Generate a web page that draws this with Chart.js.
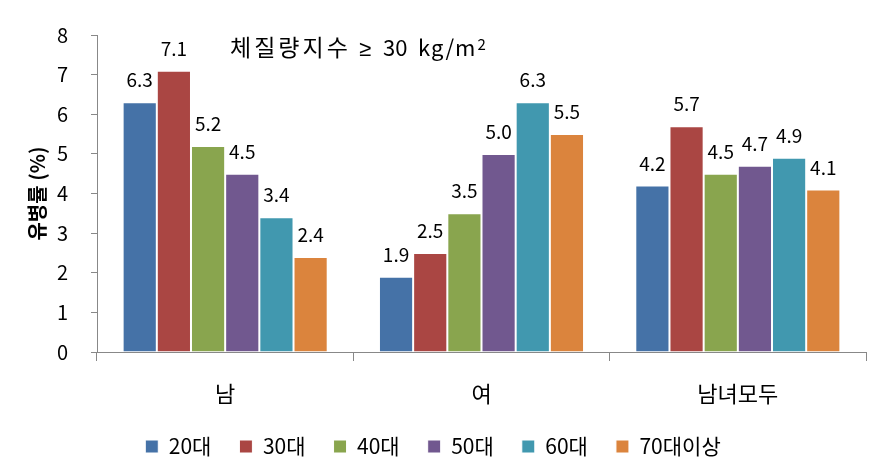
<!DOCTYPE html>
<html>
<head>
<meta charset="utf-8">
<script src="https://cdn.jsdelivr.net/npm/chart.js@4"></script>
<style>
  html, body { margin: 0; padding: 0; background: #fff; }
  #wrap { width: 889px; height: 475px; }
</style>
</head>
<body>
<div id="wrap"><canvas id="chart" width="889" height="475"></canvas></div>
<script>
// groups on the x axis
const categories = ['남', '여', '남녀모두'];
// age groups (series)
const ageGroups = ['20대', '30대', '40대', '50대', '60대', '70대이상'];
// prevalence (%) per age group, in order 남, 여, 남녀모두
const age20 = [6.3, 1.9, 4.2];
const age30 = [7.1, 2.5, 5.7];
const age40 = [5.2, 3.5, 4.5];
const age50 = [4.5, 5.0, 4.7];
const age60 = [3.4, 6.3, 4.9];
const age70 = [2.4, 5.5, 4.1];
const colors = ['#4572A7', '#AA4643', '#89A54E', '#71588F', '#4198AF', '#DB843D'];

const FONT = '"Noto Sans CJK KR", "Noto Sans", sans-serif';

// value labels above each bar
const valueLabels = {
  id: 'valueLabels',
  afterDatasetsDraw(chart) {
    const ctx = chart.ctx;
    ctx.save();
    ctx.font = '19px ' + FONT;
    ctx.fillStyle = '#000';
    ctx.textAlign = 'center';
    ctx.textBaseline = 'alphabetic';
    chart.data.datasets.forEach((ds, i) => {
      chart.getDatasetMeta(i).data.forEach((bar, j) => {
        ctx.fillText(ds.data[j].toFixed(1), bar.x, bar.y - 15);
      });
    });
    ctx.restore();
  }
};

// "체질량지수 ≥ 30 kg/m²" note at the top of the plot
const note = {
  id: 'note',
  afterDraw(chart) {
    const ctx = chart.ctx;
    const left = chart.chartArea.left;
    const base = chart.chartArea.top + 21;
    ctx.save();
    ctx.fillStyle = '#000';
    ctx.textBaseline = 'alphabetic';
    ctx.textAlign = 'left';
    ctx.font = '23px ' + FONT;
    ctx.letterSpacing = '3px';
    ctx.fillText('체질량지수', left + 133, base);
    ctx.letterSpacing = '0px';
    ctx.font = '22px "Noto Sans", sans-serif';
    ctx.fillText('≥', left + 262, base);
    ctx.font = '22px ' + FONT;
    ctx.fillText('30', left + 286, base);
    ctx.letterSpacing = '1px';
    ctx.fillText('kg/m', left + 321, base);
    const w = ctx.measureText('kg/m').width;
    ctx.letterSpacing = '0px';
    ctx.font = '15px ' + FONT;
    ctx.fillText('2', left + 321 + w + 1, base - 6);
    ctx.restore();
  }
};

const seriesData = [age20, age30, age40, age50, age60, age70];

new Chart(document.getElementById('chart'), {
  type: 'bar',
  data: {
    labels: categories,
    datasets: ageGroups.map((name, i) => ({
      label: name,
      data: seriesData[i],
      backgroundColor: colors[i],
      borderColor: '#ffffff',
      borderWidth: 1,
      categoryPercentage: 0.8,
      barPercentage: 1.0
    }))
  },
  options: {
    responsive: false,
    animation: false,
    layout: { padding: { top: 27, right: 23, left: 0, bottom: 8 } },
    plugins: {
      legend: {
        position: 'bottom',
        labels: {
          font: { family: FONT, size: 21 },
          color: '#000',
          boxWidth: 13,
          boxHeight: 13,
          padding: 28
        }
      },
      tooltip: { enabled: false }
    },
    scales: {
      x: {
        grid: {
          display: true,
          drawOnChartArea: false,
          drawTicks: true,
          tickLength: 9,
          color: '#888',
          offset: true
        },
        border: { color: '#888' },
        ticks: {
          font: { family: FONT, size: 22 },
          color: '#000',
          padding: 19
        },
        afterFit(scale) { scale.height = 56; }
      },
      y: {
        min: 0,
        max: 8,
        grid: {
          display: true,
          drawOnChartArea: false,
          drawTicks: true,
          tickLength: 6,
          color: '#888'
        },
        border: { color: '#888' },
        ticks: {
          stepSize: 1,
          font: { family: FONT, size: 20 },
          color: '#000',
          padding: 23
        },
        title: {
          display: true,
          text: '유병률 (%)',
          font: { family: FONT, size: 20, weight: 'bold' },
          color: '#000',
          padding: { top: 25, bottom: 0 }
        },
        afterFit(scale) { scale.width = 97; }
      }
    }
  },
  plugins: [valueLabels, note]
});
</script>
</body>
</html>
